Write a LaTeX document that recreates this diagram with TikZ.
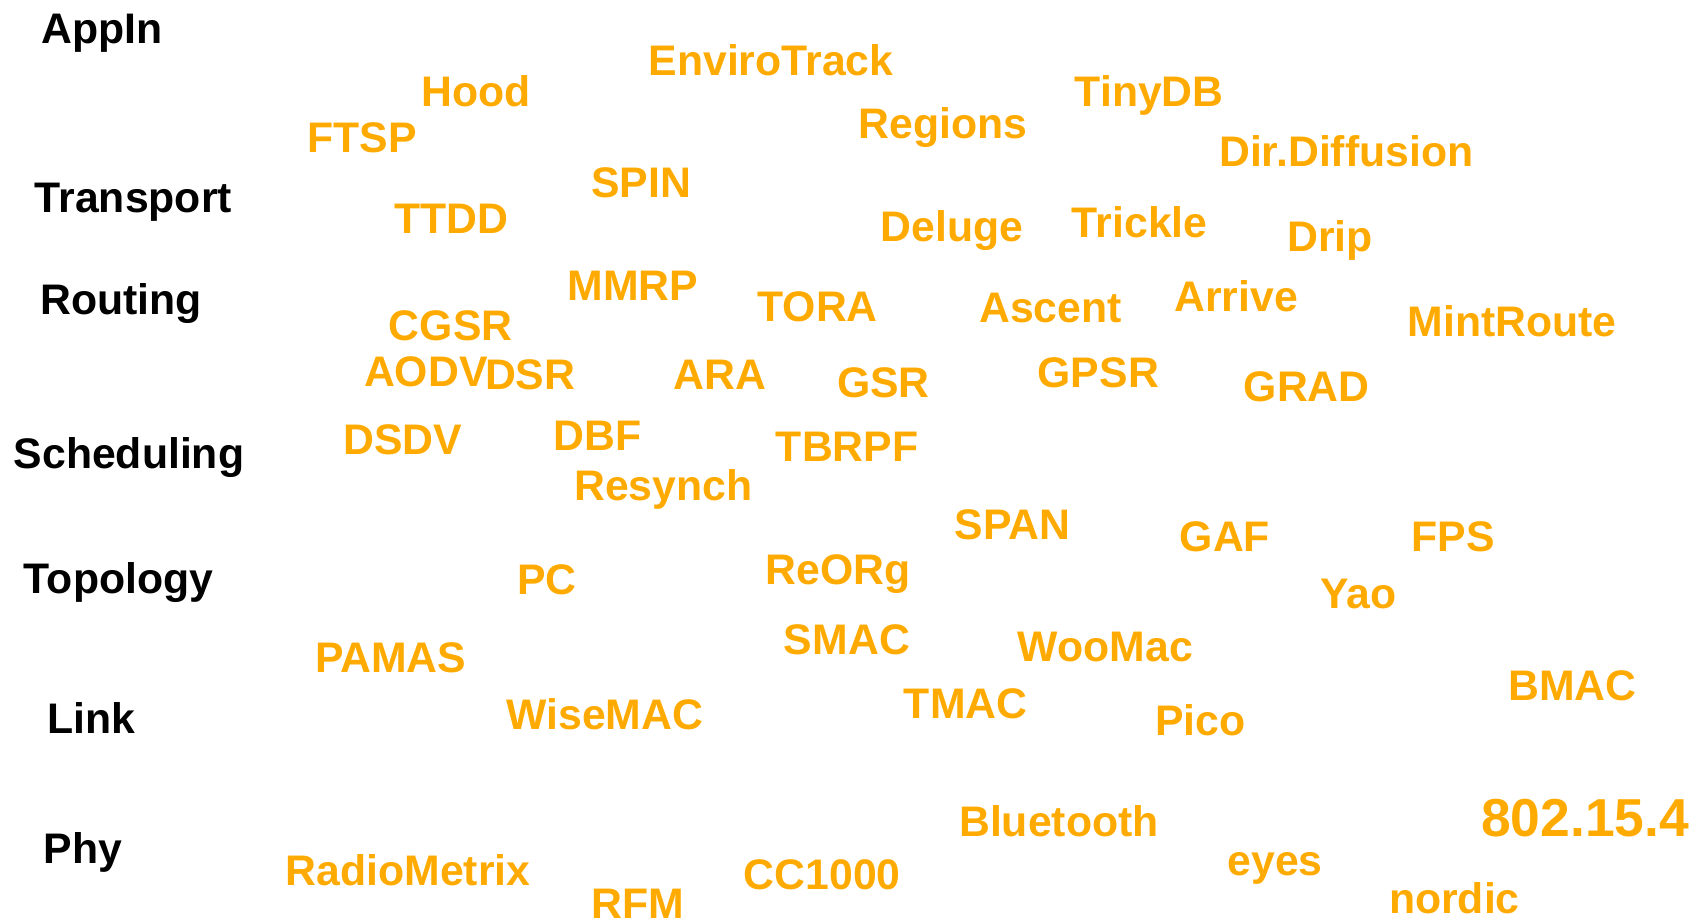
\documentclass[tikz,border=0pt]{standalone}
\usepackage{fontspec}
\setmainfont{Liberation Sans}
\definecolor{wordorange}{HTML}{FFAA00}
\tikzset{
  lbl/.style={anchor=base west, inner sep=0pt, font=\bfseries\fontsize{39.6}{44}\selectfont, text=black},
  wrd/.style={anchor=base west, inner sep=0pt, font=\bfseries\fontsize{39.6}{44}\selectfont, text=wordorange},
  bigwrd/.style={wrd, font=\bfseries\fontsize{49.5}{56}\selectfont}
}
\begin{document}
\begin{tikzpicture}[x=1pt,y=-1pt]
\useasboundingbox (0,0) rectangle (1568,851);
% layer labels
\node[lbl] (appin) at (38.5,40) {AppIn};
\node[lbl] (transport) at (32,197) {Transport};
\node[lbl] (routing) at (37,291.7) {Routing};
\node[lbl] (scheduling) at (12.5,434) {Scheduling};
\node[lbl] (topology) at (22,550) {Topology};
\node[lbl] (link) at (43.5,679) {Link};
\node[lbl] (phy) at (40.5,800) {Phy};
% words
\node[wrd] (envirotrack) at (600.5,69.5) {EnviroTrack};
\node[wrd] (hood) at (390,98.8) {Hood};
\node[wrd] (ftsp) at (284.5,141) {FTSP};
\node[wrd] (spin) at (547.5,182.8) {SPIN};
\node[wrd] (ttdd) at (365,216.7) {TTDD};
\node[wrd] (mmrp) at (525.5,277.9) {MMRP};
\node[wrd] (tora) at (701.3,297.9) {TORA};
\node[wrd] (cgsr) at (360,314.9) {CGSR};
\node[wrd] (aodv) at (337,358.1) {AODV};
\node[wrd] (dsr) at (449,361.2) {DSR};
\node[wrd] (ara) at (623.5,361.2) {ARA};
\node[wrd] (dsdv) at (318,420.5) {DSDV};
\node[wrd] (dbf) at (512.5,417.4) {DBF};
\node[wrd] (regions) at (795.3,128.1) {Regions};
\node[wrd] (tinydb) at (995.2,98.8) {TinyDB};
\node[wrd] (dirdiff) at (1129,154.4) {Dir.Diffusion};
\node[wrd] (deluge) at (815.4,223.8) {Deluge};
\node[wrd] (trickle) at (992.6,220.1) {Trickle};
\node[wrd] (drip) at (1191.9,233.1) {Drip};
\node[wrd] (arrive) at (1087.5,288.7) {Arrive};
\node[wrd] (ascent) at (906.8,298.5) {Ascent};
\node[wrd] (mintroute) at (1303.4,311.8) {MintRoute};
\node[wrd] (gsr) at (775,368) {GSR};
\node[wrd] (gpsr) at (960.9,359) {GPSR};
\node[wrd] (grad) at (1151.7,372) {GRAD};
\node[wrd] (tbrpf) at (718.4,427) {TBRPF};
\node[wrd] (resynch) at (531.6,463.7) {Resynch};
\node[wrd] (pc) at (478.9,550.2) {PC};
\node[wrd] (reorg) at (708.8,540.9) {ReORg};
\node[wrd] (smac) at (725.9,606.3) {SMAC};
\node[wrd] (pamas) at (291.6,622.7) {PAMAS};
\node[wrd] (wisemac) at (468.9,675.8) {WiseMAC};
\node[wrd] (radiometrix) at (264.5,820.3) {RadioMetrix};
\node[wrd] (rfm) at (547.7,851) {RFM};
\node[wrd] (cc1000) at (688.7,824) {CC1000};
\node[wrd] (span) at (884.2,499.2) {SPAN};
\node[wrd] (gaf) at (1092.5,510.6) {GAF};
\node[wrd] (fps) at (1307.4,510.6) {FPS};
\node[wrd] (yao) at (1223,563.4) {Yao};
\node[wrd] (woomac) at (942.5,612.5) {WooMac};
\node[wrd] (tmac) at (837,665.3) {TMAC};
\node[wrd] (pico) at (1069.9,681.4) {Pico};
\node[wrd] (bmac) at (1396.7,649) {BMAC};
\node[wrd] (bluetooth) at (888.2,774.6) {Bluetooth};
\node[bigwrd] (ieee) at (1371.6,774.6) {802.15.4};
\node[wrd] (eyes) at (1136.7,810.4) {eyes};
\node[wrd] (nordic) at (1286.3,846.5) {nordic};
\end{tikzpicture}
\end{document}
